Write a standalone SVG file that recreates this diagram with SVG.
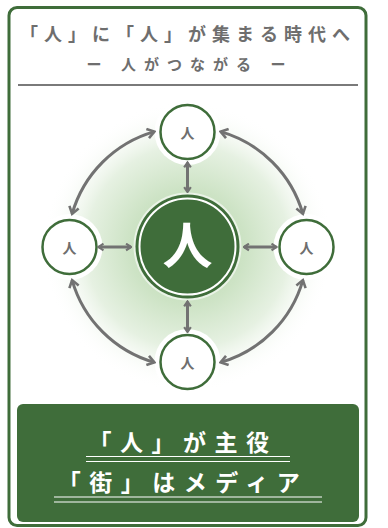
<svg xmlns="http://www.w3.org/2000/svg" width="388" height="528" viewBox="0 0 388 528">
<defs>
<style>
.jp{font-family:"Noto Sans CJK JP","Noto Sans CJK SC",sans-serif;font-weight:700}
.gray{fill:#6e6e6e}
.wt{fill:#ffffff}
.conn{fill:none;stroke:#727272;stroke-width:3}
.halo{fill:#ffffff}
.node{fill:#ffffff;stroke:#3f6d3a;stroke-width:2.5}
.ul{stroke:#ffffff;stroke-width:1.2}
</style>
<radialGradient id="glow" cx="187.5" cy="247" r="145" gradientUnits="userSpaceOnUse">
<stop offset="0" stop-color="#b9d6ae"/>
<stop offset="0.4" stop-color="#cde3c5"/>
<stop offset="0.7" stop-color="#e6f1e2"/>
<stop offset="1" stop-color="#ffffff" stop-opacity="0"/>
</radialGradient>
<marker id="ah" viewBox="0 0 12 12" refX="10" refY="6" markerWidth="12" markerHeight="12" markerUnits="userSpaceOnUse" orient="auto-start-reverse">
<path d="M3,1.2 L10,6 L3,10.8" fill="none" stroke="#727272" stroke-width="2.6"/>
</marker>
<marker id="ahs" viewBox="0 0 10 10" refX="8.5" refY="5" markerWidth="9" markerHeight="9" markerUnits="userSpaceOnUse" orient="auto-start-reverse">
<path d="M3,1.3 L8.5,5 L3,8.7" fill="none" stroke="#727272" stroke-width="2.4"/>
</marker>
</defs>
<rect x="0" y="0" width="388" height="528" fill="#ffffff"/>
<rect x="9" y="7.5" width="357" height="518" rx="8" fill="#ffffff" stroke="#3f6d3a" stroke-width="3"/>
<g id="title">
<text class="jp gray" x="188" y="41" font-size="18" letter-spacing="6" text-anchor="middle">「人」に「人」が集まる時代へ</text>
<text class="jp gray" x="190" y="70" font-size="15" letter-spacing="8" text-anchor="middle">ー 人がつながる ー</text>
<line x1="18" y1="85" x2="358" y2="85" stroke="#7a7a7a" stroke-width="2"/>
</g>
<circle cx="187.5" cy="247" r="145" fill="url(#glow)"/>
<g id="center">
<circle cx="187.5" cy="246.5" r="54" fill="#ffffff" opacity="0.6"/>
<circle cx="187.5" cy="246.5" r="52" fill="#3f6d3a"/>
<circle cx="187.5" cy="246.5" r="48" fill="none" stroke="#ffffff" stroke-width="2"/>
<text class="jp wt" x="187.5" y="263.5" font-size="50" text-anchor="middle">人</text>
</g>
<g id="n-top">
<circle class="halo" cx="187.5" cy="132" r="33"/>
<circle class="node" cx="187.5" cy="132" r="27"/>
<text class="jp gray" x="187.5" y="137.5" font-size="14" text-anchor="middle">人</text>
</g>
<g id="n-left">
<circle class="halo" cx="69.5" cy="247" r="33"/>
<circle class="node" cx="69.5" cy="247" r="27"/>
<text class="jp gray" x="69.5" y="252.5" font-size="14" text-anchor="middle">人</text>
</g>
<g id="n-right">
<circle class="halo" cx="306.5" cy="247" r="33"/>
<circle class="node" cx="306.5" cy="247" r="27"/>
<text class="jp gray" x="306.5" y="252.5" font-size="14" text-anchor="middle">人</text>
</g>
<g id="n-bottom">
<circle class="halo" cx="187.5" cy="362" r="33"/>
<circle class="node" cx="187.5" cy="362" r="27"/>
<text class="jp gray" x="187.5" y="367.5" font-size="14" text-anchor="middle">人</text>
</g>
<g id="connectors">
<path class="conn" marker-start="url(#ah)" marker-end="url(#ah)" d="M72.1,213.9 A120,120 0 0 1 154.4,131.6"/>
<path class="conn" marker-start="url(#ah)" marker-end="url(#ah)" d="M220.6,131.6 A120,120 0 0 1 302.9,213.9"/>
<path class="conn" marker-start="url(#ah)" marker-end="url(#ah)" d="M302.9,280.1 A120,120 0 0 1 220.6,362.4"/>
<path class="conn" marker-start="url(#ah)" marker-end="url(#ah)" d="M154.4,362.4 A120,120 0 0 1 72.1,280.1"/>
<path class="conn" marker-start="url(#ahs)" marker-end="url(#ahs)" d="M187.5,162.5 L187.5,192"/>
<path class="conn" marker-start="url(#ahs)" marker-end="url(#ahs)" d="M187.5,301.5 L187.5,332"/>
<path class="conn" marker-start="url(#ahs)" marker-end="url(#ahs)" d="M98.5,247 L131,247"/>
<path class="conn" marker-start="url(#ahs)" marker-end="url(#ahs)" d="M244,247 L276.5,247"/>
</g>
<g id="message">
<rect x="17" y="404" width="342" height="118" rx="6" fill="#3f6d3a"/>
<text class="jp wt" x="183" y="451" font-size="23" letter-spacing="8.5" text-anchor="middle">「人」が主役</text>
<line class="ul" x1="86" y1="456.5" x2="290" y2="456.5"/>
<line class="ul" x1="86" y1="461.5" x2="290" y2="461.5"/>
<text class="jp wt" x="183" y="491" font-size="23" letter-spacing="8.5" text-anchor="middle">「街」はメディア</text>
<line class="ul" x1="54" y1="497" x2="322" y2="497"/>
<line class="ul" x1="54" y1="502" x2="322" y2="502"/>
</g>
</svg>
